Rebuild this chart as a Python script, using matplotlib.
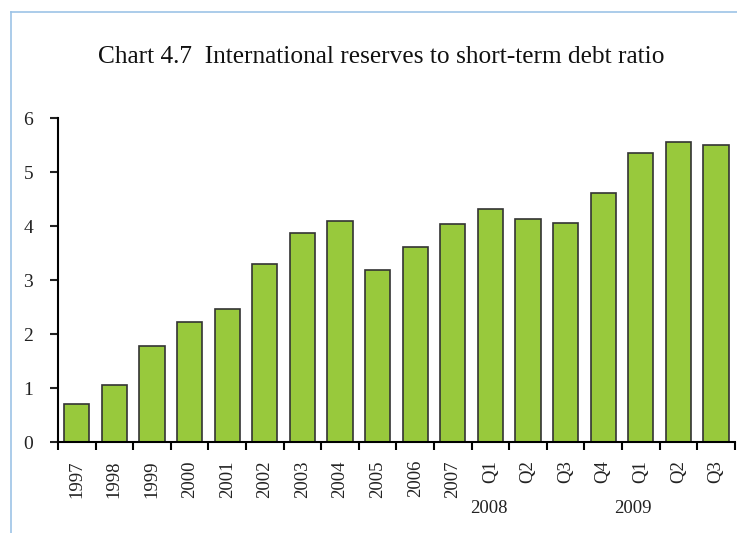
import matplotlib
matplotlib.use('Agg')
import matplotlib.pyplot as plt
from matplotlib.lines import Line2D
import numpy as np

# categories and values
labels = ['1997', '1998', '1999', '2000', '2001', '2002', '2003', '2004', '2005',
          '2006', '2007', 'Q1', 'Q2', 'Q3', 'Q4', 'Q1', 'Q2', 'Q3']
ratio = [0.70, 1.05, 1.78, 2.22, 2.46, 3.30, 3.87, 4.09, 3.18,
         3.61, 4.04, 4.31, 4.13, 4.06, 4.61, 5.35, 5.56, 5.50]
year_groups = ['2008', '2009']
year_group_pos = [10.95, 14.8]

plt.rcParams['font.family'] = ['Liberation Serif', 'DejaVu Serif']

fig = plt.figure(figsize=(7.37, 5.33), dpi=100)
ax = fig.add_axes([0.0787, 0.1707, 0.9183, 0.6079])

x = np.arange(len(ratio))
ax.bar(x, ratio, width=0.67, color='#98c93c', edgecolor='#333333', linewidth=1.2)

ax.set_xlim(-0.5, len(ratio) - 0.5)
ax.set_ylim(0, 6)
ax.set_yticks(range(0, 7))
ax.tick_params(axis='y', direction='out', length=6, width=1.5, labelsize=14, pad=12, colors='#222222')

ax.set_xticks(np.arange(-0.5, len(ratio), 1.0))
ax.set_xticklabels([])
ax.tick_params(axis='x', direction='out', length=6, width=1.5)
ax.set_xticks(x, minor=True)
ax.set_xticklabels(labels, minor=True, rotation=90)
ax.tick_params(axis='x', which='minor', length=0, labelsize=13.5, pad=13, colors='#222222')

for s in ['top', 'right']:
    ax.spines[s].set_visible(False)
for s in ['left', 'bottom']:
    ax.spines[s].set_linewidth(1.5)

for yr, pos in zip(year_groups, year_group_pos):
    ax.text(pos, -0.205, yr, transform=ax.get_xaxis_transform(), ha='center',
            va='center', fontsize=13.5, color='#222222')

fig.text(0.517, 0.893, 'Chart 4.7  International reserves to short-term debt ratio',
         ha='center', va='center', fontsize=18.3, color='#111111')

# light blue frame on the left and top
fig.add_artist(Line2D([0.015, 0.015], [0.0, 0.977], color='#9dc3e6', linewidth=1.2))
fig.add_artist(Line2D([0.015, 1.0], [0.977, 0.977], color='#9dc3e6', linewidth=1.2))

fig.savefig('out.png', dpi=100)
